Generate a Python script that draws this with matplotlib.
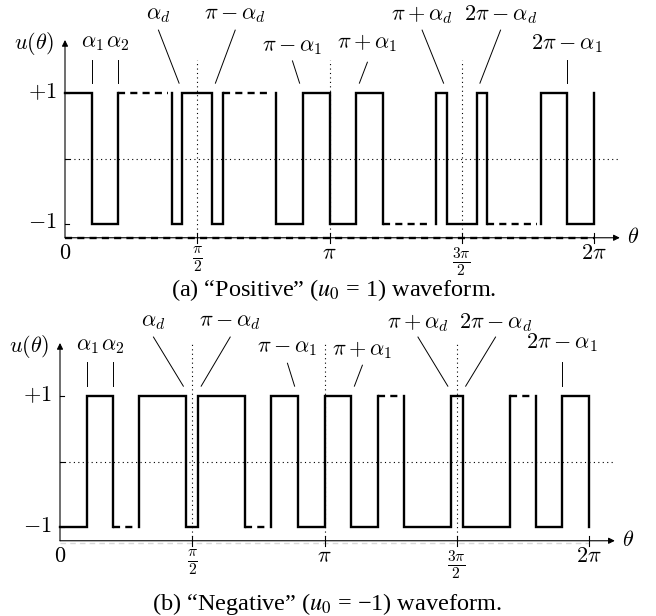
import numpy as np
import matplotlib.pyplot as plt

plt.rcParams['mathtext.fontset'] = 'cm'
plt.rcParams['font.family'] = ['Liberation Serif', 'DejaVu Serif']

# first-quarter switching angles (rad): alpha_1, alpha_2, alpha_{d-1}, alpha_d
alpha_pos = [0.32, 0.63, 1.27, 1.39]
alpha_neg = [0.32, 0.63, 0.94, 1.50]
u0_pos = 1
u0_neg = -1

tick_pos = [0, np.pi/2, np.pi, 3*np.pi/2, 2*np.pi]
tick_lbl = ['$0$', r'$\frac{\pi}{2}$', r'$\pi$', r'$\frac{3\pi}{2}$', r'$2\pi$']

# labelled switching instants: (text, index into the edge list)
edge_lbl = [(r'$\alpha_1$', 1), (r'$\alpha_2$', 2), (r'$\alpha_d$', 4),
            (r'$\pi-\alpha_d$', 5), (r'$\pi-\alpha_1$', 8),
            (r'$\pi+\alpha_1$', 10), (r'$\pi+\alpha_d$', 13),
            (r'$2\pi-\alpha_d$', 14), (r'$2\pi-\alpha_1$', 17)]
dashed_seg = [2, 6, 11, 15]   # runs of omitted switchings

W, H = 656, 616
LW = 1.7
AX_U = -1.21
FS = 16


def edges(alpha):
    # quarter-wave + half-wave symmetry
    half = list(alpha) + [np.pi - a for a in alpha[::-1]]
    return np.array([0] + half + [np.pi] + [np.pi + a for a in half] + [2*np.pi])


def waveform(ax, e, u0):
    lvl = [u0 * (-1)**k for k in range(len(e) - 1)]
    kw = dict(color='k', lw=LW, clip_on=False, solid_joinstyle='miter')
    xs, ys = [e[0]], [lvl[0]]
    for k in range(len(e) - 1):
        if k in dashed_seg:
            ax.plot(xs, ys, **kw)
            ax.plot([e[k], e[k+1] - 0.05], [lvl[k], lvl[k]], color='k', lw=LW,
                    dashes=(3, 2.2), clip_on=False, dash_capstyle='butt')
            xs, ys = [e[k+1]], [lvl[k]]
        else:
            xs.append(e[k+1])
            ys.append(lvl[k])
        nxt = lvl[k+1] if k + 1 < len(lvl) else u0
        xs.append(e[k+1])
        ys.append(nxt)
    ax.plot(xs, ys, **kw)


def panel(rect, alpha, u0, lay):
    ax = fig.add_axes(rect)
    ax.set_xlim(0, 2*np.pi)
    ax.set_ylim(-1, 1)
    ax.axis('off')
    e = edges(alpha)

    # guides
    dot = dict(color='k', lw=0.8, ls=(0, (1, 3)), clip_on=False)
    for t in tick_pos[1:4]:
        ax.plot([t, t], [AX_U, lay['vtop']], **dot)
    ax.plot([0, 6.59], [0, 0], **dot)

    # axes with arrows
    if lay['axis_dash']:
        ax.plot([0, 2*np.pi], [AX_U, AX_U], color='k', lw=LW, dashes=(3, 2.2),
                clip_on=False)
    else:
        ax.plot([0, 2*np.pi], [AX_U - 0.03, AX_U - 0.03], color='0.85', lw=1,
                dashes=(4, 3), clip_on=False)
    arr = dict(arrowstyle='-|>', lw=0.8, color='k', mutation_scale=9,
               shrinkA=0, shrinkB=0)
    ax.annotate('', xy=(6.59, AX_U), xytext=(0, AX_U), arrowprops=arr,
                annotation_clip=False)
    ax.annotate('', xy=(0, 1.81), xytext=(0, AX_U), arrowprops=arr,
                annotation_clip=False)
    for t in tick_pos[1:]:
        ax.plot([t, t], [AX_U - 0.08, AX_U + 0.08], color='k', lw=0.8, clip_on=False)
    for v in (-1, 0, 1):
        ax.plot([0, 0.05], [v, v], color='k', lw=0.8, clip_on=False)

    for t, s in zip(tick_pos, tick_lbl):
        ax.text(t, AX_U - 0.11, s, ha='center', va='top', fontsize=FS)
    ax.text(-0.1, 1, '$+1$', ha='right', va='center', fontsize=FS)
    ax.text(-0.1, -1, '$-1$', ha='right', va='center', fontsize=FS)
    ax.text(-0.13, 1.76, r'$u(\theta)$', ha='right', va='center', fontsize=FS)
    ax.text(6.68, AX_U, r'$\theta$', ha='left', va='center', fontsize=FS)

    waveform(ax, e, u0)

    # leader lines to the switching instants
    for (s, i), dx, tu, lu in zip(edge_lbl, lay['dx'], lay['tu'], lay['lu']):
        t = e[i]
        tx = t + dx
        bx = t + 0.035 * np.sign(dx)
        ax.plot([tx, bx], [lu, 1.15], color='k', lw=0.7, clip_on=False)
        ax.text(tx, tu, s, ha='center', va='center', fontsize=FS)
    return ax


fig = plt.figure(figsize=(W/100, H/100), dpi=100)

lay_a = dict(vtop=1.5, axis_dash=True,
             dx=[0, 0, -0.28, 0.27, -0.12, 0.13, -0.29, 0.28, 0],
             tu=[1.76, 1.76, 2.19, 2.19, 1.70, 1.76, 2.19, 2.19, 1.76],
             lu=[1.50, 1.50, 1.96, 1.96, 1.49, 1.47, 1.96, 1.96, 1.50])
lay_b = dict(vtop=1.82, axis_dash=False,
             dx=[0, 0, -0.39, 0.38, -0.12, 0.13, -0.39, 0.39, 0],
             tu=[1.75, 1.75, 2.12, 2.12, 1.73, 1.70, 2.12, 2.12, 1.81],
             lu=[1.52, 1.52, 1.90, 1.90, 1.50, 1.47, 1.90, 1.90, 1.52])

panel([65/W, 1 - 224/H, 529/W, 131/H], alpha_pos, u0_pos, lay_a)
panel([60/W, 1 - 527/H, 529/W, 131/H], alpha_neg, u0_neg, lay_b)

fig.text(334/W, 1 - 290/H, '(a) \u201cPositive\u201d ($u_0$ = 1) waveform.',
         ha='center', va='center', fontsize=17.5, math_fontfamily='stix')
fig.text(327/W, 1 - 604/H, '(b) \u201cNegative\u201d ($u_0$ = \u22121) waveform.',
         ha='center', va='center', fontsize=17.5, math_fontfamily='stix')

fig.savefig('out.png', dpi=100)
